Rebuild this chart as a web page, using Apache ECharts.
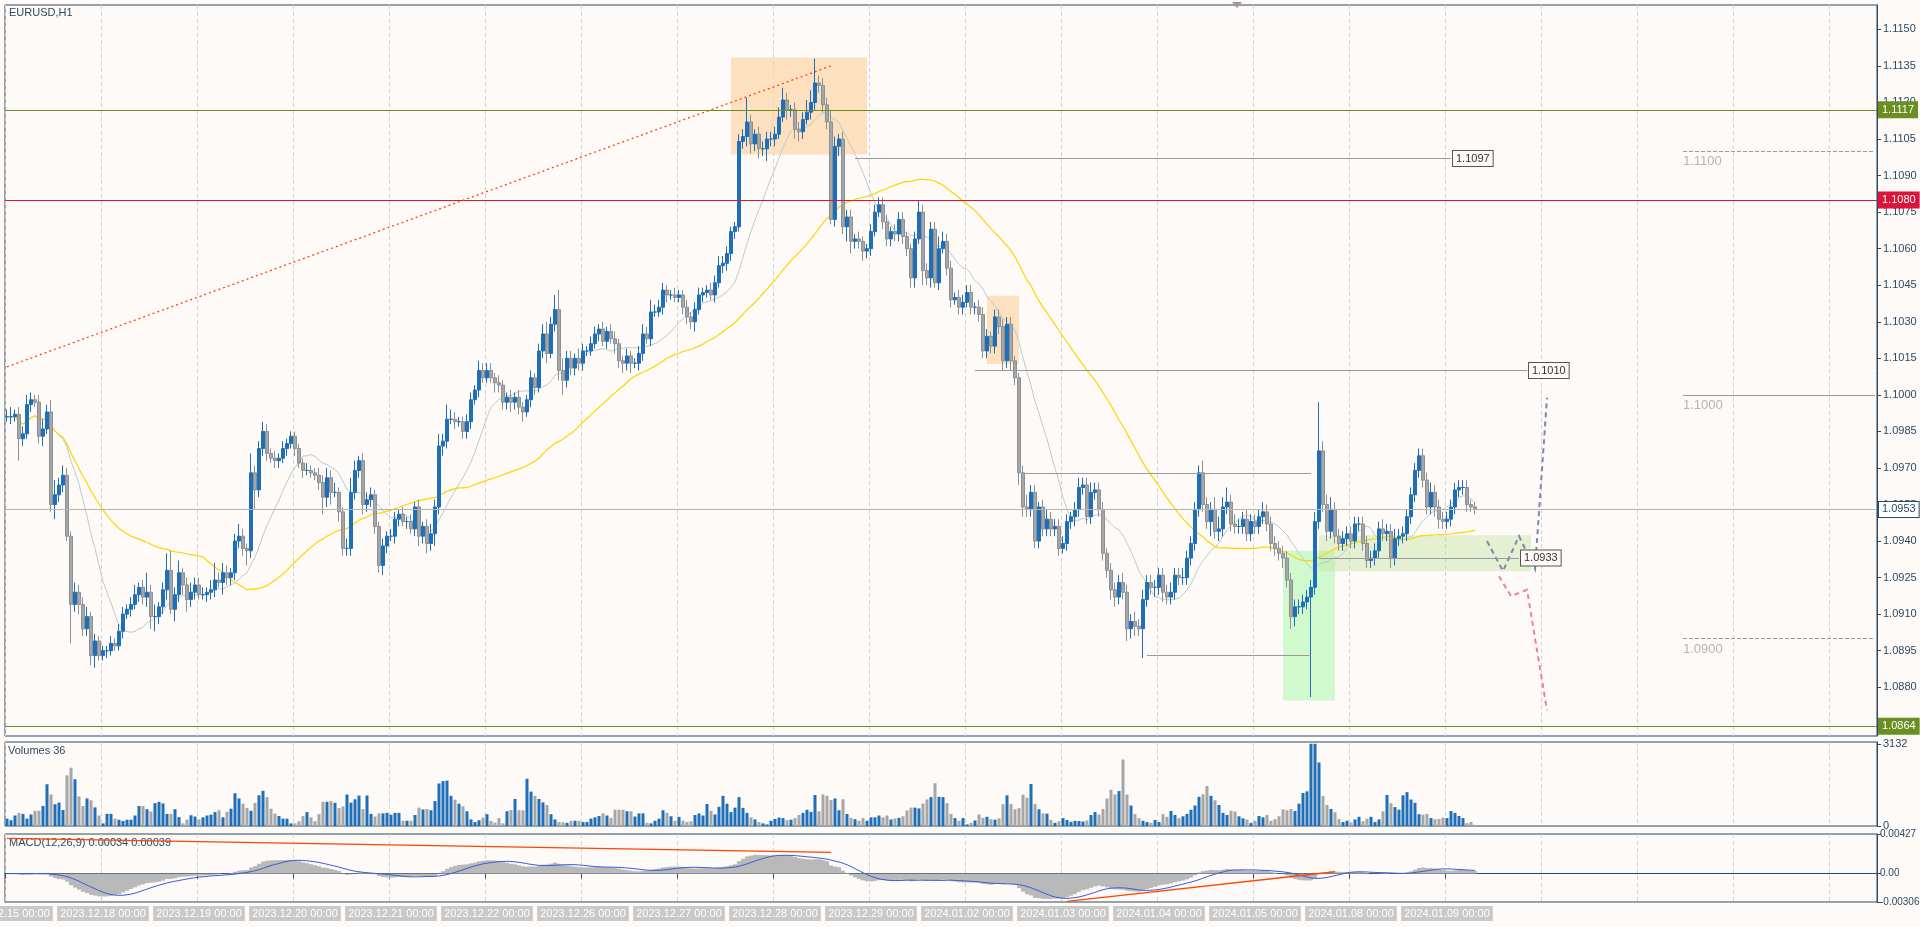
<!DOCTYPE html>
<html><head><meta charset="utf-8">
<script src="https://cdn.jsdelivr.net/npm/echarts@6/dist/echarts.min.js"></script>
<style>html,body{margin:0;padding:0;background:#fdfaf8}#c{width:1920px;height:927px}</style>
</head><body><div id="c"></div>
<script>
// ---- data (closes in pips above 1.0800) ----
const days = ['2023.12.15','2023.12.18','2023.12.19','2023.12.20','2023.12.21','2023.12.22','2023.12.26','2023.12.27','2023.12.28','2023.12.29','2024.01.02','2024.01.03','2024.01.04','2024.01.05','2024.01.08','2024.01.09'];
const closePips = [
191,191,192,182,184,196,198,197,183,186,193,155,159,163,167,142,114,119,114,104,109,93,99,93,
95,95,98,97,103,110,112,114,118,121,117,119,109,109,113,120,128,112,118,127,122,116,119,122,
118,118,119,120,124,123,127,125,127,140,142,137,136,168,161,178,185,176,174,173,174,178,180,183,
178,172,169,169,168,167,164,158,166,160,160,152,137,137,160,169,173,155,157,159,146,130,138,142,
142,149,151,148,148,145,154,142,146,139,143,154,179,181,190,190,189,189,185,189,198,202,210,207,
210,207,205,204,197,199,197,199,195,193,198,207,203,218,225,217,229,235,210,206,215,211,215,213,
218,218,221,225,227,222,226,223,221,214,213,216,213,213,217,225,223,234,234,236,243,241,241,240,
241,236,232,230,235,241,242,243,241,246,253,254,258,267,269,304,306,312,303,307,301,301,305,305,
307,314,321,317,317,309,308,313,316,320,328,327,319,312,272,302,305,269,273,263,264,263,259,260,
267,275,278,271,264,267,266,272,265,260,248,264,275,251,248,268,246,260,263,252,239,240,236,238,
242,236,236,233,218,224,220,232,228,214,229,214,207,168,154,153,160,140,154,145,149,145,146,137,
139,148,150,153,162,163,150,160,161,153,135,128,120,117,123,119,104,107,105,104,116,123,121,121,
126,119,117,119,126,125,125,133,139,153,168,155,148,153,144,145,154,156,147,146,146,149,143,148,
146,150,152,147,139,137,135,133,124,109,113,113,115,117,121,148,177,155,144,153,142,139,141,143,
140,147,147,139,132,133,136,145,143,144,133,141,142,143,150,159,169,175,165,154,160,154,149,148,
149,154,161,162,162,155,154,153];
const wickUp = [
3,4,2,3,3,4,3,2,3,4,3,5,6,3,4,3,2,4,3,3,4,2,3,2,
2,2,3,2,3,3,2,3,4,2,3,8,3,5,2,3,7,8,3,5,2,3,4,3,
3,3,2,4,7,3,4,3,2,3,5,3,2,8,3,3,4,3,2,3,2,3,2,2,
2,2,2,3,2,2,3,3,4,3,4,2,2,4,6,4,2,3,3,3,2,2,3,2,
3,3,2,3,2,3,2,3,2,3,4,3,5,3,6,4,3,2,2,3,3,2,4,3,
3,3,2,3,2,2,3,2,3,2,2,3,2,3,4,5,3,6,8,5,3,3,2,4,
3,2,3,3,2,3,2,3,3,2,2,3,2,2,3,4,3,5,3,3,3,2,2,3,
2,2,3,2,3,3,2,2,3,3,4,3,3,2,2,3,3,10,3,2,3,3,3,3,
3,4,5,3,2,3,3,3,5,5,10,3,3,3,5,4,2,3,3,3,2,3,2,2,
3,3,3,3,3,2,3,3,3,2,2,3,5,3,3,3,3,5,4,3,3,2,3,3,
3,3,2,3,3,3,2,3,3,3,3,3,2,2,3,5,3,3,2,3,4,3,3,3,
3,3,2,3,4,3,3,4,3,3,3,2,3,3,3,4,3,3,4,3,4,3,3,3,
3,3,3,4,3,3,4,3,3,3,3,5,3,3,5,5,4,6,3,4,3,3,4,3,
3,3,4,3,3,3,3,3,3,3,3,3,3,3,3,4,20,4,4,5,3,3,3,3,
3,3,3,3,3,3,3,3,4,3,3,4,3,3,3,3,3,3,3,3,4,3,3,3,
3,3,3,3,3,3,2,2];
const wickDn = [
2,3,2,9,3,2,3,2,3,4,2,3,6,3,3,2,16,3,4,3,3,4,5,2,
2,3,2,2,2,3,2,3,2,3,3,4,5,6,3,3,4,2,5,3,4,5,3,3,
2,2,3,3,3,2,5,3,3,3,3,3,6,3,8,3,3,3,2,3,3,2,3,2,
3,2,3,2,2,2,3,7,4,5,2,4,3,3,3,3,3,4,3,3,3,3,4,3,
2,3,3,2,3,2,3,4,3,4,3,5,3,4,3,2,3,2,3,3,3,2,3,2,
2,2,4,3,3,3,4,3,3,4,2,3,3,2,3,4,2,3,4,6,3,3,3,3,
3,2,2,2,3,2,3,2,4,3,4,3,4,2,3,3,2,3,2,2,3,3,2,2,
2,3,3,3,4,2,3,2,2,3,2,3,3,3,3,2,3,4,4,3,4,3,5,3,
3,2,2,4,3,4,4,3,2,3,3,3,3,3,2,3,4,3,6,5,3,3,4,3,
3,2,2,3,3,3,3,3,3,3,4,4,2,6,3,4,2,3,2,3,3,2,3,3,
2,3,3,3,3,3,3,3,3,4,3,4,3,5,4,3,3,3,3,3,3,3,3,3,
2,3,3,4,3,3,3,3,3,3,3,3,4,4,3,3,5,4,4,3,12,3,3,4,
3,4,3,3,3,3,3,3,3,3,3,3,3,6,3,4,3,3,3,3,3,3,3,3,
3,3,3,3,3,3,3,4,3,5,4,3,3,3,41,3,3,3,4,3,3,3,3,3,
3,3,3,3,3,3,3,3,3,3,4,3,3,3,3,3,3,3,3,3,3,4,4,3,
3,3,3,3,3,3,2,2];
const volumes = [
280,220,400,500,460,280,440,580,580,760,1590,1200,830,890,610,1930,2220,1780,1130,760,1050,980,710,400,
100,460,460,280,240,190,240,240,400,760,760,640,550,870,920,860,460,460,640,340,100,240,410,360,
250,330,400,430,530,600,330,540,660,1250,1050,850,690,580,880,1170,1340,1100,660,470,380,280,280,100,
100,180,380,530,330,180,450,920,920,950,880,680,750,1200,890,1020,1160,640,1160,460,360,480,480,500,
430,500,500,200,200,200,420,700,630,650,600,950,1620,1710,1730,1150,1000,850,750,560,250,150,220,320,
450,190,130,300,100,560,610,1030,600,600,1800,1310,1150,1030,900,800,450,250,150,140,120,200,200,200,
150,150,280,330,380,480,400,310,620,620,620,560,560,360,480,480,120,100,200,280,600,500,370,200,
350,200,150,180,420,480,400,840,580,440,730,1150,850,530,700,1100,690,500,330,250,150,100,60,200,
270,320,300,220,240,300,420,500,620,540,1180,560,1200,1150,990,1050,600,1020,460,310,260,200,300,200,
330,330,400,330,400,250,290,310,370,590,700,700,670,850,1010,1100,1630,1110,1100,870,460,300,200,300,
60,120,210,440,310,350,260,240,290,830,1170,840,640,680,1190,1080,1600,840,640,480,470,230,120,180,
300,230,160,200,190,170,210,420,530,440,650,1050,1380,1200,1330,2530,1200,780,450,300,200,150,120,230,
150,450,350,570,420,300,370,460,620,780,1110,1210,1520,1150,980,800,500,420,580,550,370,290,250,120,
200,380,330,420,200,260,370,630,600,650,570,850,1260,1320,3132,3132,2420,1140,800,650,520,260,150,200,
130,250,350,180,280,350,150,250,560,1180,870,720,620,1170,1290,1010,880,450,430,460,300,260,270,320,
300,570,500,380,300,110,150,40];
const priceTicks = [1.0880,1.0895,1.0910,1.0925,1.0940,1.0955,1.0970,1.0985,1.1000,1.1015,1.1030,1.1045,1.1060,1.1075,1.1090,1.1105,1.1120,1.1135,1.1150];
const volTicks = [0,3132];
const macdTicks = [-0.00306,0,0.00427];

// ---- build ----
const N = closePips.length, TOTAL = 468;
const P = p => +(1.08 + p/10000).toFixed(5);
const closes = closePips.map(P);
const cats = [];
for (let i=0;i<TOTAL;i++){
  const d = days[Math.min(Math.floor(i/24), days.length-1)];
  const h = i<days.length*24 ? i%24 : 0;
  cats.push(d+' '+String(h).padStart(2,'0')+':00');
}
const candles = closes.map((c,i)=>{
  const o = i===0 ? c : closes[i-1];
  return [o, c, +(Math.min(o,c)-wickDn[i]/10000).toFixed(5), +(Math.max(o,c)+wickUp[i]/10000).toFixed(5)];
});
function sma(arr,n){return arr.map((_,i)=>{const s=Math.max(0,i-n+1);let t=0;for(let k=s;k<=i;k++)t+=arr[k];return +(t/(i-s+1)).toFixed(5);});}
function ema(arr,n){const a=2/(n+1);let e=arr[0];return arr.map(v=>(e=e+a*(v-e)));}
const e12=ema(closes,12), e26=ema(closes,26);
const macd=e12.map((v,i)=>+(v-e26[i]).toFixed(6));
const signal=sma(macd,9);
const volData = volumes.map((v,i)=>({value:v,itemStyle:{color: candles[i][1]>=candles[i][0]?'#1f6fb8':'#a6a6a6'}}));
const dayIdx=(i)=>i%24===0;

const axisCol='#2d4a63';
const fontF='"Liberation Sans", Arial, sans-serif';
function xAx(gi,showLabel){
  return {type:'category',gridIndex:gi,data:cats,boundaryGap:true,
    axisLine:{show:showLabel,lineStyle:{color:axisCol}},axisTick:{show:showLabel,interval:(i)=>dayIdx(i)&&i<N,lineStyle:{color:axisCol}},
    axisLabel:{show:showLabel,interval:(i)=>dayIdx(i)&&i<N,hideOverlap:false,overflow:'none',color:'#ffffff',backgroundColor:'#c9c9c9',padding:[2,3],fontSize:11,fontFamily:fontF,margin:4},
    splitLine:{show:true,interval:(i)=>dayIdx(i),lineStyle:{color:'#d2d2d2',type:[4,3]}}};
}
function yAx(gi,min,max,ticks,fmt,fs){
  return {type:'value',gridIndex:gi,position:'right',min,max,scale:true,
    axisLine:{show:true,lineStyle:{color:axisCol}},
    axisTick:{show:true,customValues:ticks,length:4,lineStyle:{color:axisCol}},
    axisLabel:{customValues:ticks,formatter:fmt,color:'#2d4a63',fontSize:fs||11,fontFamily:fontF,margin:fs?3:6},
    splitLine:{show:false}};
}
const lbox=(txt,bg,fg,bd)=>({show:true,position:'end',formatter:txt,backgroundColor:bg,color:fg,borderColor:bd||bg,borderWidth:1,padding:[2,3],fontSize:11,fontFamily:fontF,distance:2});
const seg=(a,b,v,col,label,type)=>[{coord:[a,v],lineStyle:{color:col,width:1,type:type||'solid'},label:label||{show:false}},{coord:[b,v]}];
const G={left:5,right:43,show:true,borderColor:axisCol,borderWidth:1,containLabel:false,outerBoundsMode:'none'};

const option={
  animation:false,backgroundColor:'#fdfaf8',
  grid:[
    Object.assign({top:5,height:731,backgroundColor:'#fdfaf8'},G),
    Object.assign({top:742,height:84},G),
    Object.assign({top:834,height:68},G)
  ],
  xAxis:[xAx(0,false),xAx(1,false),xAx(2,true)],
  yAxis:[yAx(0,1.0860,1.1160,priceTicks,v=>v.toFixed(4)),yAx(1,0,3200,volTicks,v=>String(v)),yAx(2,-0.00306,0.00427,macdTicks,v=>v===0?'0.00':v.toFixed(5),10)],
  graphic:[
    {type:'text',left:9,top:7,style:{text:'EURUSD,H1',fill:'#2d4a63',font:'11px '+fontF}},
    {type:'text',left:8,top:745,style:{text:'Volumes 36',fill:'#2d4a63',font:'11px '+fontF}},
    {type:'text',left:9,top:837,style:{text:'MACD(12,26,9) 0.00034 0.00039',fill:'#2d4a63',font:'11px '+fontF}},
    {type:'polygon',left:1232,top:2,shape:{points:[[0,0],[10,0],[5,6]]},style:{fill:'#9a9a9a'}}
  ],
  series:[
    {type:'candlestick',xAxisIndex:0,yAxisIndex:0,data:candles,barWidth:3,
      itemStyle:{color:'#1f6fb8',color0:'#a6a6a6',borderColor:'#1f6fb8',borderColor0:'#8a9096',borderWidth:1},
      markArea:{silent:true,data:[
        [{coord:[181,1.11385],itemStyle:{color:'rgba(252,213,165,0.7)'}},{coord:[215,1.10986]}],
        [{coord:[245,1.10407],itemStyle:{color:'rgba(252,213,165,0.7)'}},{coord:[253,1.10127]}],
        [{coord:[319,1.09360],itemStyle:{color:'rgba(140,250,140,0.4)'}},{coord:[332,1.08746]}],
        [{coord:[328,1.09424],itemStyle:{color:'rgba(190,225,150,0.4)'}},{coord:[381,1.09276]}]
      ]},
      markLine:{silent:true,symbol:'none',precision:5,data:[
        {yAxis:1.1117,lineStyle:{color:'#6b8e23',width:1,type:'solid'},label:lbox('1.1117','#6b8e23','#fff')},
        {yAxis:1.1080,lineStyle:{color:'#dc143c',width:1,type:'solid'},label:lbox('1.1080','#dc143c','#fff')},
        {yAxis:1.0953,lineStyle:{color:'#b4b4b4',width:1,type:'solid'},label:lbox('1.0953','#ffffff','#2d4a63','#2d4a63')},
        {yAxis:1.0864,lineStyle:{color:'#6b8e23',width:1,type:'solid'},label:lbox('1.0864','#6b8e23','#fff')},
        seg(212,361,1.1097,'#9a9a9a',lbox('1.1097','#fdfaf8','#333','#555')),
        seg(242,380,1.1010,'#9a9a9a',lbox('1.1010','#fdfaf8','#333','#555')),
        seg(328,378,1.0933,'#9a9a9a',lbox('1.0933','#fdfaf8','#333','#555')),
        seg(254,326,1.0968,'#9a9a9a'),
        seg(285,326,1.0893,'#9a9a9a'),
        seg(419,467,1.1100,'#9a9a9a',{show:true,position:'insideStartBottom',formatter:'1.1100',color:'#b5b5b5',fontSize:13,fontFamily:fontF,distance:[0,4]},'dashed'),
        seg(419,467,1.1000,'#9a9a9a',{show:true,position:'insideStartBottom',formatter:'1.1000',color:'#b5b5b5',fontSize:13,fontFamily:fontF,distance:[0,4]}),
        seg(419,467,1.0900,'#9a9a9a',{show:true,position:'insideStartBottom',formatter:'1.0900',color:'#b5b5b5',fontSize:13,fontFamily:fontF,distance:[0,4]},'dashed'),
        [{coord:[0,1.10115],lineStyle:{color:'#ff4500',width:1.3,type:[2,3]},label:{show:false}},{coord:[206,1.1135]}]
      ]}
    },
    {type:'line',xAxisIndex:0,yAxisIndex:0,data:sma(closes,14),showSymbol:false,lineStyle:{color:'#b9cdcb',width:1},z:1},
    {type:'line',xAxisIndex:0,yAxisIndex:0,data:sma(closes,50),showSymbol:false,lineStyle:{color:'#ffd400',width:1.2},z:1},
    {type:'lines',coordinateSystem:'cartesian2d',xAxisIndex:0,yAxisIndex:0,polyline:true,symbol:['none','arrow'],symbolSize:11,
      lineStyle:{color:'#7c88a6',width:2,type:[5,4],opacity:1},
      data:[{coords:[[370,1.0940],[374,1.09277],[377.5,1.0942],[381.5,1.09285],[385,1.09988]]}]},
    {type:'lines',coordinateSystem:'cartesian2d',xAxisIndex:0,yAxisIndex:0,polyline:true,symbol:['none','arrow'],symbolSize:11,
      lineStyle:{color:'#f27ca3',width:2,type:[5,4],opacity:1},
      data:[{coords:[[373,1.09256],[376,1.09174],[380,1.0920],[385,1.08705]]}]},
    {type:'bar',xAxisIndex:1,yAxisIndex:1,data:volData,barWidth:3},
    {type:'bar',xAxisIndex:2,yAxisIndex:2,data:macd,barWidth:4,itemStyle:{color:'#b9b9b9'}},
    {type:'line',xAxisIndex:2,yAxisIndex:2,data:signal,showSymbol:false,lineStyle:{color:'#3a5fd8',width:1},
      markLine:{silent:true,symbol:'none',precision:5,data:[
        [{coord:[0,0.0038],lineStyle:{color:'#ff4500',width:1.3,type:'solid'},label:{show:false}},{coord:[206,0.0023]}],
        [{coord:[265,-0.0030],lineStyle:{color:'#ff4500',width:1.3,type:'solid'},label:{show:false}},{coord:[332,0.0002]}]
      ]}}
  ]
};
echarts.init(document.getElementById('c')).setOption(option);
</script></body></html>
